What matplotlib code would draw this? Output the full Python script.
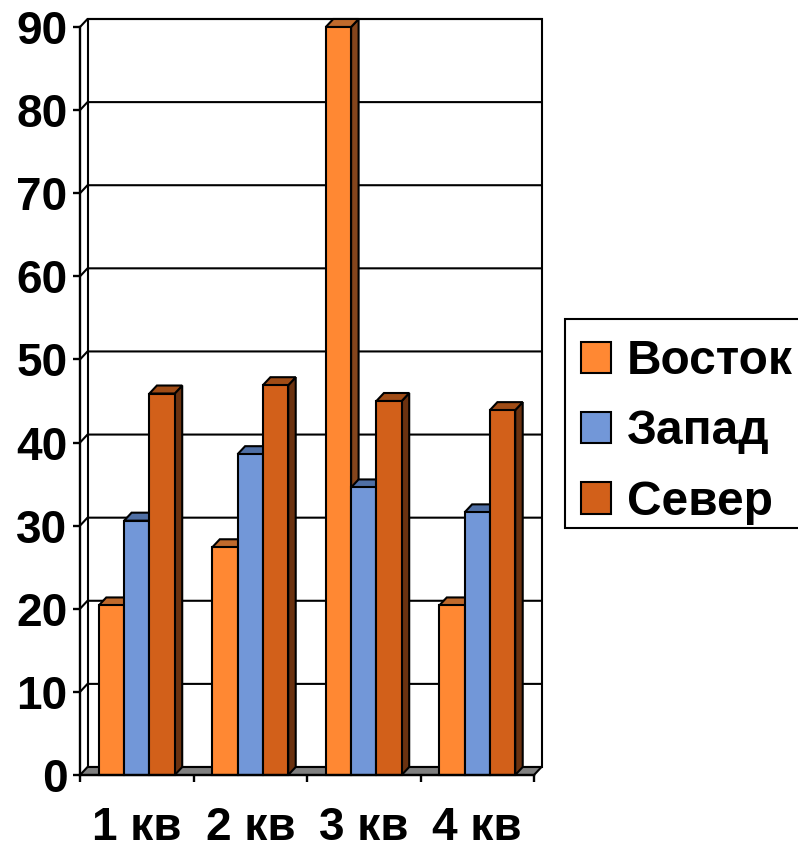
import numpy as np
import matplotlib
matplotlib.use("Agg")
import matplotlib.pyplot as plt
from matplotlib.patches import Polygon, Patch, Rectangle

plt.rcParams['font.family'] = ['Liberation Sans', 'DejaVu Sans']
plt.rcParams['font.weight'] = 'bold'

# данные
quarters = ["1 кв", "2 кв", "3 кв", "4 кв"]
vostok = [20.4, 27.4, 90, 20.4]
zapad = [30.6, 38.6, 34.6, 31.6]
sever = [45.9, 46.9, 45, 43.9]
series_names = ["Восток", "Запад", "Север"]
yticks = np.arange(0, 100, 10)

front_colors = ["#FF8833", "#7297D8", "#D2601A"]
top_colors = ["#C06A2C", "#4F6FA5", "#A04C16"]
side_colors = ["#85451C", "#3F5C8C", "#6B3210"]

W, H = 798, 849
fig = plt.figure(figsize=(W / 100, H / 100), dpi=100)
left, right, top, bottom = 80, 534, 27, 775
ax = fig.add_axes([left / W, 1 - bottom / H, (right - left) / W, (bottom - top) / H])
ax.set_xlim(0, 4)
ax.set_ylim(0, 90)

# глубина 3D в единицах данных
dx = 7.5 / ((right - left) / 4)
dy = 8 / ((bottom - top) / 90)
lw = 1.5
fs = 33


def poly(pts, color, z):
    ax.add_patch(Polygon(pts, closed=True, facecolor=color, edgecolor="black",
                         linewidth=lw, clip_on=False, zorder=z))


# стенка и пол
poly([(dx, dy), (4 + dx, dy), (4 + dx, 90 + dy), (dx, 90 + dy)], "white", 1)
poly([(0, 0), (dx, dy), (4 + dx, dy), (4, 0)], "#808080", 2)
for v in yticks[1:]:
    ax.plot([0, dx, 4 + dx], [v, v + dy, v + dy], color="black", lw=lw, clip_on=False, zorder=3)

# столбцы
bar_w = 0.223
offs = [-bar_w, 0, bar_w]
x = np.arange(4) + 0.5
z = 4
for g in range(4):
    for s, vals in enumerate([vostok, zapad, sever]):
        xc = x[g] + offs[s]
        x0, x1 = xc - bar_w / 2, xc + bar_w / 2
        v = vals[g]
        poly([(x1, 0), (x1 + dx, dy), (x1 + dx, v + dy), (x1, v)], side_colors[s], z)
        poly([(x0, v), (x0 + dx, v + dy), (x1 + dx, v + dy), (x1, v)], top_colors[s], z)
        ax.bar(xc, v, bar_w, color=front_colors[s], edgecolor="black", linewidth=lw,
               clip_on=False, zorder=z + 1)
        z += 2

# оси
for name in ["top", "right"]:
    ax.spines[name].set_visible(False)
for name in ["left", "bottom"]:
    ax.spines[name].set_linewidth(1.7)
    ax.spines[name].set_zorder(100)
ax.patch.set_visible(False)

ax.set_yticks(yticks)
ax.tick_params(axis="y", length=5, width=1.7, pad=4, labelsize=fs)
ax.set_xticks(np.arange(5))
ax.set_xticklabels([])
ax.tick_params(axis="x", which="major", length=5, width=1.7)
ax.set_xticks(x, minor=True)
ax.set_xticklabels(quarters, minor=True, fontsize=fs)
ax.tick_params(axis="x", which="minor", length=0, pad=22)

# рамка легенды отдельно, правый край за границей картинки
fig.add_artist(Rectangle((565 / W, 1 - 528 / H), 240 / W, 209 / H, transform=fig.transFigure,
                         facecolor="white", edgecolor="black", linewidth=1.5))
handles = [Patch(facecolor=c, edgecolor="black", linewidth=lw) for c in front_colors]
leg = fig.legend(handles, series_names, loc="upper left",
                 bbox_to_anchor=(581 / W, 1 - 339 / H), fontsize=34.5,
                 frameon=False,
                 handlelength=0.625, handleheight=0.625, handletextpad=0.33,
                 labelspacing=0.53, borderpad=0, borderaxespad=0)

fig.savefig("out.png", dpi=100)
